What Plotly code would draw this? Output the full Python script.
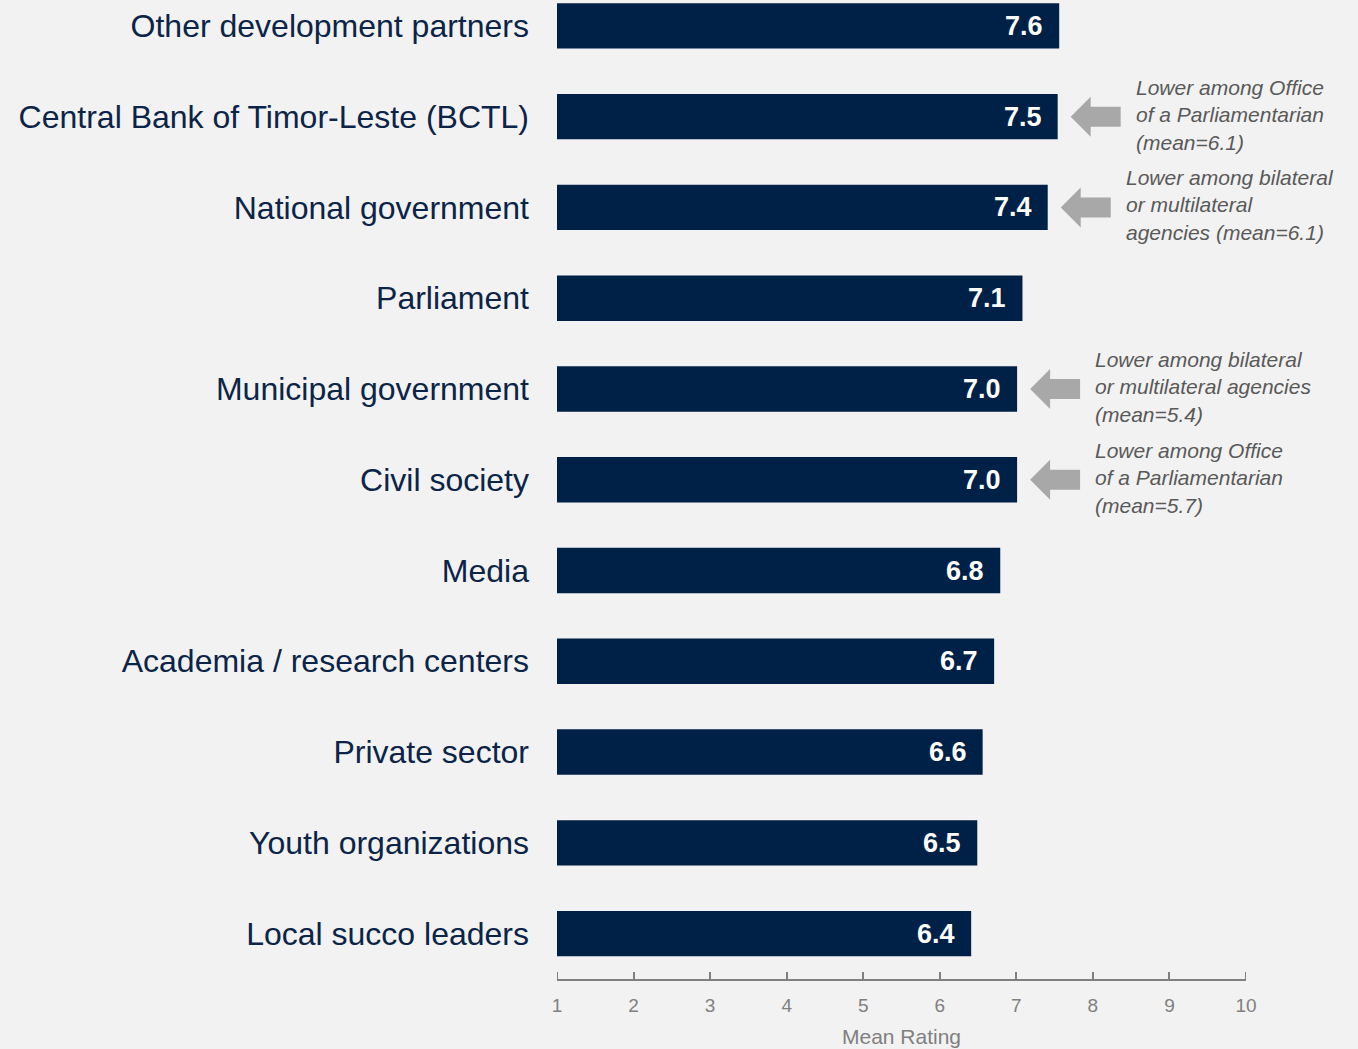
"""Mean rating by stakeholder group - horizontal bar chart."""

import plotly.graph_objects as go

categories = [
    "Other development partners",
    "Central Bank of Timor-Leste (BCTL)",
    "National government",
    "Parliament",
    "Municipal government",
    "Civil society",
    "Media",
    "Academia / research centers",
    "Private sector",
    "Youth organizations",
    "Local succo leaders",
]
mean_rating = [7.56, 7.54, 7.41, 7.08, 7.01, 7.01, 6.79, 6.71, 6.56, 6.49, 6.41]

note_categories = [
    "Central Bank of Timor-Leste (BCTL)",
    "National government",
    "Municipal government",
    "Civil society",
]
note_texts = [
    "Lower among Office<br>of a Parliamentarian<br>(mean=6.1)",
    "Lower among bilateral<br>or multilateral<br>agencies (mean=6.1)",
    "Lower among bilateral<br>or multilateral agencies<br>(mean=5.4)",
    "Lower among Office<br>of a Parliamentarian<br>(mean=5.7)",
]
x_ticks = list(range(1, 11))

NAVY = "#002147"
GREY = "#808080"
BG = "#f2f2f2"
FONT = "Liberation Sans, Arial"

fig = go.Figure()

fig.add_trace(go.Bar(
    x=[v - 1 for v in mean_rating],
    base=1,
    y=categories,
    orientation="h",
    width=0.5,
    marker=dict(color=NAVY, line=dict(width=0)),
    hoverinfo="skip",
))

# value labels inside bar end
for cat, val in zip(categories, mean_rating):
    fig.add_annotation(
        x=val, y=cat, xref="x", yref="y",
        text=f"<b>{val:.1f}</b>",
        showarrow=False, xanchor="right", xshift=-14,
        font=dict(family=FONT, size=27, color="white"),
    )

# grey block arrows and italic notes
for cat, txt in zip(note_categories, note_texts):
    val = mean_rating[categories.index(cat)]
    fig.add_shape(
        type="path",
        xref="x", yref="y",
        xsizemode="pixel", ysizemode="pixel",
        xanchor=val, yanchor=cat,
        path="M 13 0 L 33 20 L 33 10 L 63 10 L 63 -10 L 33 -10 L 33 -20 Z",
        fillcolor="#a8a8a8", line=dict(width=0),
    )
    fig.add_annotation(
        x=val, y=cat, xref="x", yref="y",
        text=txt, showarrow=False,
        xanchor="left", yanchor="middle", align="left",
        xshift=76, yshift=2,
        font=dict(family=FONT, size=21, color="#595959", style="italic"),
    )

# plotly drops inside ticks at the axis ends, add them back
for t in (x_ticks[0], x_ticks[-1]):
    fig.add_shape(
        type="line", xref="x", yref="paper",
        x0=t, x1=t, ysizemode="pixel", yanchor=0, y0=0, y1=7,
        line=dict(color=GREY, width=2),
    )

fig.update_layout(
    width=1358,
    height=1049,
    paper_bgcolor=BG,
    plot_bgcolor=BG,
    margin=dict(l=557, r=112, t=0, b=70),
    showlegend=False,
    font=dict(family=FONT),
    xaxis=dict(
        range=[1, 10],
        tickmode="array",
        tickvals=x_ticks,
        ticktext=[str(t) for t in x_ticks],
        showgrid=False,
        zeroline=False,
        showline=True,
        linecolor=GREY,
        linewidth=2,
        ticks="inside",
        ticklen=7,
        tickwidth=2,
        tickcolor=GREY,
        ticklabelstandoff=8,
        tickfont=dict(family=FONT, size=19, color=GREY),
        title=dict(
            text="Mean Rating",
            font=dict(family=FONT, size=21, color=GREY),
            standoff=15,
        ),
        fixedrange=True,
    ),
    yaxis=dict(
        categoryorder="array",
        categoryarray=categories,
        range=[10.5, -0.285],
        showgrid=False,
        zeroline=False,
        showline=False,
        ticks="",
        ticklabelstandoff=27,
        tickfont=dict(family=FONT, size=32, color="#0b2447"),
        fixedrange=True,
    ),
)

fig.write_html(
    "out.html",
    config={"displayModeBar": False},
    post_script="document.body.style.margin='0';",
)
